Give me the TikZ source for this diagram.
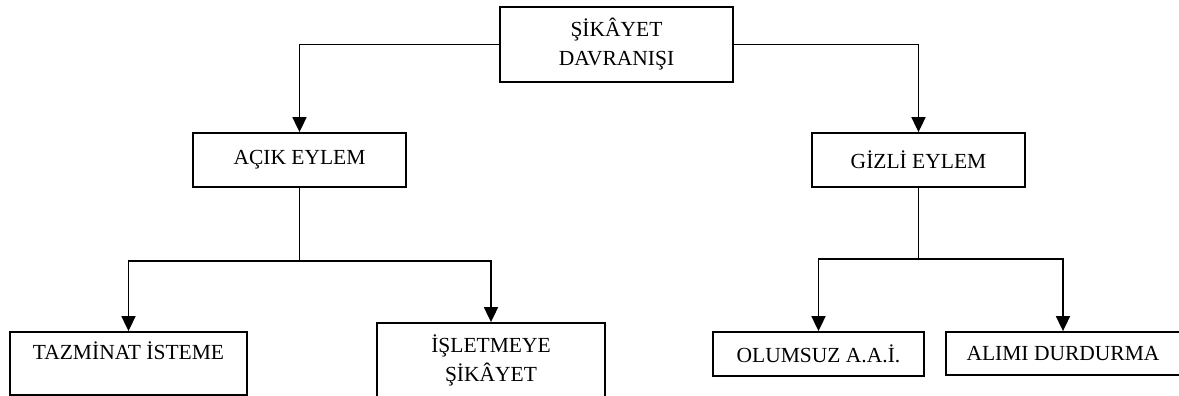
\documentclass[tikz,border=0pt]{standalone}
\usepackage{fontspec}
\setmainfont{Liberation Serif}
\usetikzlibrary{arrows.meta}
\tikzset{
  box/.style={draw, line width=1.8pt, rectangle, inner sep=0pt, align=center,
    font=\fontsize{21.5}{29}\selectfont},
  conn/.style={line width=1.8pt},
  arr/.style={conn, -{Triangle[length=15pt, width=14pt]}}
}
\begin{document}
\begin{tikzpicture}[x=1pt, y=-1pt]
\useasboundingbox (0,0) rectangle (1179,396);
\node[box, minimum width=233pt, minimum height=75pt] (top) at (616.5,44.5) {ŞİKÂYET\\DAVRANIŞI};
\node[box, minimum width=213pt, minimum height=54pt] (acik) at (299.5,160) {AÇIK EYLEM};
\node[box, minimum width=213pt, minimum height=54pt] (gizli) at (918.5,160) {GİZLİ EYLEM};
\node[box, minimum width=237pt, minimum height=63pt] (taz) at (128.5,363.5) {TAZMİNAT İSTEME\\[-4pt]~};
\node[box, minimum width=228pt, minimum height=74pt] (isl) at (491,360) {İŞLETMEYE\\ŞİKÂYET};
\node[box, minimum width=211pt, minimum height=44pt] (olum) at (818.5,354) {OLUMSUZ A.A.İ.};
\node[box, minimum width=234pt, minimum height=43pt] (alim) at (1063,353.5) {ALIMI DURDURMA};
\coordinate (jl) at (299.5,261);
\coordinate (jr) at (918.5,259);
\draw[arr] (top.west) -| (acik.north);
\draw[arr] (top.east) -| (gizli.north);
\draw[conn] (acik.south) -- (jl);
\draw[arr] (jl) -| (taz.north);
\draw[arr] (jl) -| (isl.north);
\draw[conn] (gizli.south) -- (jr);
\draw[arr] (jr) -| (olum.north);
\draw[arr] (jr) -| (alim.north);
\end{tikzpicture}
\end{document}
